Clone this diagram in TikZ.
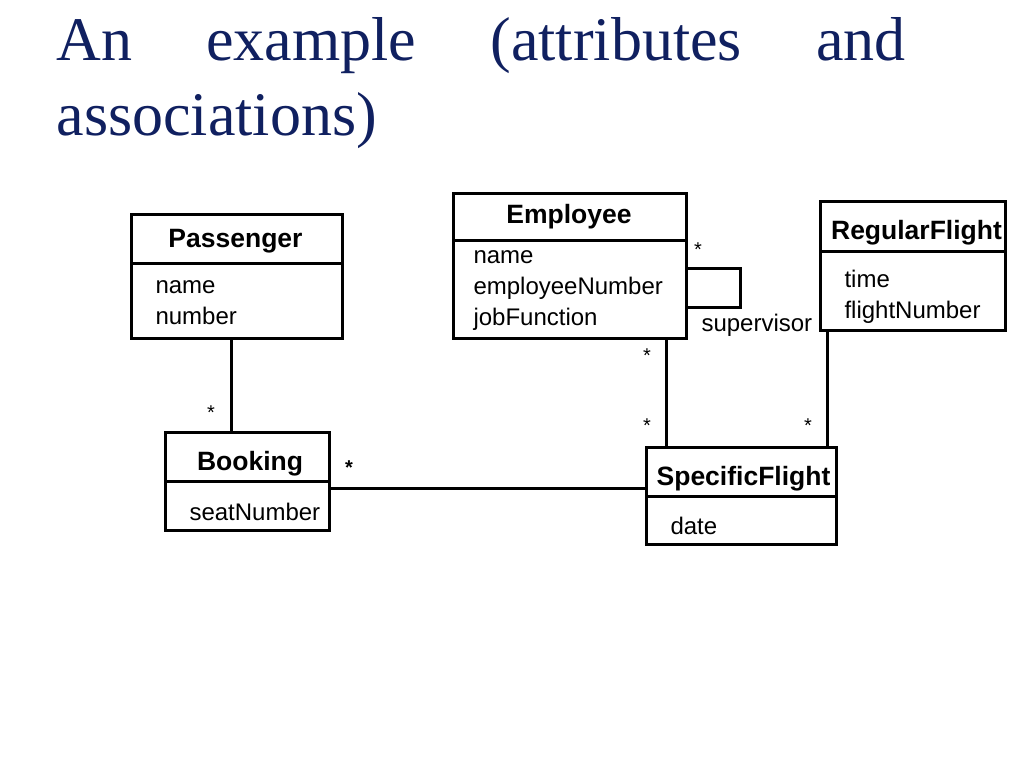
\documentclass[tikz,border=0pt]{standalone}
\usepackage{fontspec}
\setmainfont{Liberation Serif}
\setsansfont{Liberation Sans}
\definecolor{titleblue}{RGB}{16,32,96}

\begin{document}
\begin{tikzpicture}[x=1pt,y=-1pt,line width=3pt,
  class/.style={draw,rectangle,inner sep=0pt,outer sep=0pt},
  head/.style={inner sep=0pt,font=\sffamily\bfseries\fontsize{26.5}{30}\selectfont},
  attr/.style={anchor=west,align=left,inner sep=0pt,font=\sffamily\fontsize{24}{31}\selectfont},
  mult/.style={inner sep=0pt,yshift=-3pt,font=\sffamily\fontsize{20}{22}\selectfont},
  heading/.style={anchor=base west,inner sep=0pt,text=titleblue,font=\fontsize{62}{75}\selectfont}]

\useasboundingbox (0,0) rectangle (1024,768);

% title
\node[heading] (title1) at (55,60) {\hbox to 849pt{An\hfill example\hfill (attributes\hfill and}};
\node[heading] (title2) at (55,135) {associations)};

% classes
\node[class,minimum width=211,minimum height=124] (pass) at (236.5,276) {};
\node[class,minimum width=233,minimum height=145] (emp) at (569.5,265.5) {};
\node[class,minimum width=185,minimum height=129] (reg) at (912.5,265.5) {};
\node[class,minimum width=164,minimum height=98] (book) at (247,481) {};
\node[class,minimum width=190,minimum height=97] (spec) at (741,495.5) {};

\draw ([yshift=-49pt]pass.north west) -- ([yshift=-49pt]pass.north east);
\draw ([yshift=-47pt]emp.north west) -- ([yshift=-47pt]emp.north east);
\draw ([yshift=-50pt]reg.north west) -- ([yshift=-50pt]reg.north east);
\draw ([yshift=-49pt]book.north west) -- ([yshift=-49pt]book.north east);
\draw ([yshift=-49pt]spec.north west) -- ([yshift=-49pt]spec.north east);

\node[head] (passname) at (235.5,241) {Passenger};
\node[head] (empname) at (569,217) {Employee};
\node[head] (regname) at (916.5,233) {RegularFlight};
\node[head] (bookname) at (250,464) {Booking};
\node[head] (specname) at (743.5,479) {SpecificFlight};

\node[attr] (passattr) at (154,303) {name\\number};
\node[attr] (empattr) at (472,291) {name\\employeeNumber\\jobFunction};
\node[attr] (regattr) at (843,297) {time\\flightNumber};
\node[attr] (bookattr) at (188,512) {seatNumber};
\node[attr] (specattr) at (669,526) {date};

% associations
\coordinate (pb) at (231,0);
\draw (pb |- pass.south) -- (pb |- book.north);
\coordinate (bs) at (0,488);
\draw (book.east |- bs) -- (spec.west |- bs);
\coordinate (es) at (666,0);
\draw (es |- emp.south) -- (es |- spec.north);
\coordinate (rs) at (827,0);
\draw (rs |- reg.south) -- (rs |- spec.north);
\draw ([yshift=-2.5pt]emp.east) -- ++(54,0) -- ++(0,39) -- ([yshift=-41.5pt]emp.east);

\node[mult] (m1) at (211,410) {*};
\node[mult,font=\sffamily\bfseries\fontsize{20}{22}\selectfont] (m2) at (349,465) {*};
\node[mult] (m3) at (647,353) {*};
\node[mult] (m4) at (647,423) {*};
\node[mult] (m5) at (808,423) {*};
\node[mult] (m6) at (698,247) {*};
\node[attr] (sup) at (700,325) {supervisor};

\end{tikzpicture}
\end{document}
